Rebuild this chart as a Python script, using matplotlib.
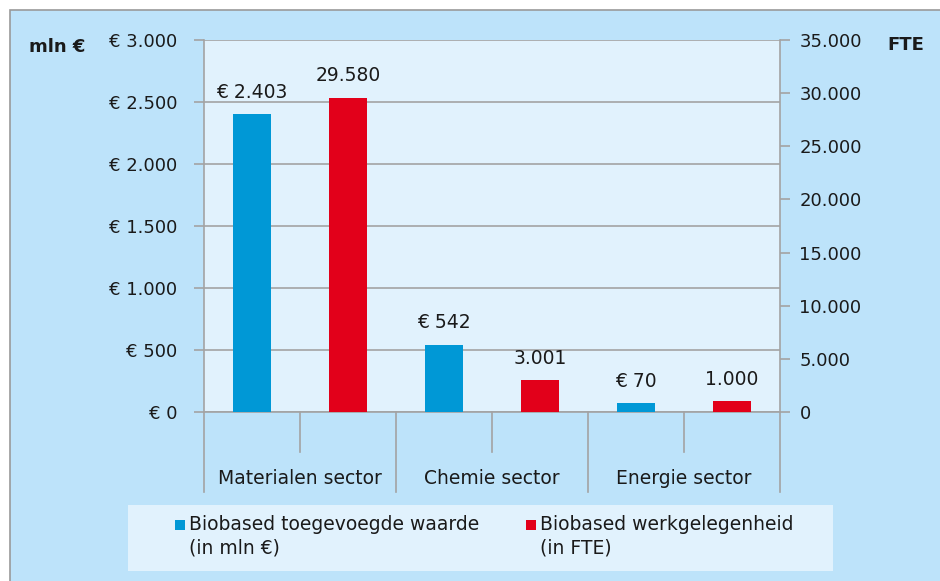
import matplotlib
matplotlib.use("Agg")
import matplotlib.pyplot as plt
from matplotlib.patches import Rectangle
from matplotlib.lines import Line2D
import matplotlib.transforms as mtransforms
from matplotlib.ticker import FuncFormatter, MultipleLocator

categories = ['Materialen sector', 'Chemie sector', 'Energie sector']
waarde = [2403, 542, 70]          # mln €
fte = [29580, 3001, 1000]         # FTE
series_names = ['Biobased toegevoegde waarde\n(in mln €)',
                'Biobased werkgelegenheid\n(in FTE)']

BLUE = '#0098d6'
RED = '#e2001a'
OUTER = '#bde3fa'
INNER = '#e1f2fd'
GRID = '#a3a3a3'
TXT = '#1a1a1a'

plt.rcParams['font.family'] = ['DejaVu Sans']
FS = 13.5
TFS = 13

def nl(v):
    return f"{int(round(v)):,}".replace(',', '.')

fig = plt.figure(figsize=(9.4, 5.81), dpi=100)
fig.patch.set_facecolor('white')

# background axes for the outer frame and legend box
bg = fig.add_axes([0, 0, 1, 1], zorder=-5)
bg.set_xlim(0, 940)
bg.set_ylim(581, 0)
bg.axis('off')
bg.add_patch(Rectangle((10, 10), 940, 581, facecolor=OUTER, edgecolor='#9a9a9a', lw=1.2))
bg.add_patch(Rectangle((128, 505), 833 - 128, 66, facecolor=INNER, edgecolor='none'))

ax = fig.add_axes([204/940, 1 - 412/581, 576/940, 372/581])
ax.set_facecolor(INNER)
ax2 = ax.twinx()

n = len(categories)
xb = [2*i for i in range(n)]
xr = [2*i + 1 for i in range(n)]
w = 0.4

ax.bar(xb, waarde, width=w, color=BLUE, zorder=3)
ax2.bar(xr, fte, width=w, color=RED, zorder=3)

ax.set_xlim(-0.5, 2*n - 0.5)
ax.set_ylim(0, 3000)
ax2.set_ylim(0, 35000)
ax.yaxis.set_major_locator(MultipleLocator(500))
ax2.yaxis.set_major_locator(MultipleLocator(5000))
ax.yaxis.set_major_formatter(FuncFormatter(lambda v, p: f"€ {nl(v)}"))
ax2.yaxis.set_major_formatter(FuncFormatter(lambda v, p: nl(v)))
ax.grid(axis='y', color=GRID, lw=1.2, zorder=1)
ax.set_axisbelow(True)
ax.set_xticks([])
ax2.set_xticks([])

for a in (ax, ax2):
    for s in a.spines.values():
        s.set_visible(False)
ax.spines['left'].set_visible(True)
ax.spines['left'].set_color(GRID)
ax.spines['left'].set_linewidth(1.2)
ax2.spines['right'].set_visible(True)
ax2.spines['right'].set_color(GRID)
ax2.spines['right'].set_linewidth(1.2)
ax.spines['bottom'].set_visible(True)
ax.spines['bottom'].set_color(GRID)
ax.spines['bottom'].set_linewidth(1.2)

ax.tick_params(axis='y', length=7, width=1.2, color=GRID, labelsize=TFS, labelcolor=TXT, pad=12)
ax2.tick_params(axis='y', length=7, width=1.2, color=GRID, labelsize=TFS, labelcolor=TXT, pad=7)

# multi-level category separators
trans = mtransforms.blended_transform_factory(ax.transData, ax.transAxes)
for k in range(2*n + 1):
    x = k - 0.5
    depth = -0.215 if k % 2 == 0 else -0.108
    ax.add_line(Line2D([x, x], [0, depth], transform=trans, color=GRID, lw=1.2, clip_on=False))
for i, c in enumerate(categories):
    ax.text(2*i + 0.5, -0.178, c, transform=trans, ha='center', va='center',
            fontsize=FS, color=TXT)

# data labels
for x, v in zip(xb, waarde):
    ax.annotate(f"€ {nl(v)}", (x, v), xytext=(0, 9), textcoords='offset points',
                ha='center', va='bottom', fontsize=FS, color=TXT)
for x, v in zip(xr, fte):
    ax2.annotate(nl(v), (x, v), xytext=(0, 9), textcoords='offset points',
                 ha='center', va='bottom', fontsize=FS, color=TXT)

bg.text(29, 47, 'mln €', fontsize=TFS, fontweight='bold', color=TXT, va='center')
bg.text(887, 45, 'FTE', fontsize=TFS, fontweight='bold', color=TXT, va='center')

# legend (manual)
leg_x = [175, 526]
for lx, col, name in zip(leg_x, [BLUE, RED], series_names):
    bg.add_patch(Rectangle((lx, 520), 10, 10, facecolor=col, edgecolor='none'))
    bg.text(lx + 14, 515, name, fontsize=FS, color=TXT, va='top', ha='left', linespacing=1.32)

fig.savefig('out.png', dpi=100)
